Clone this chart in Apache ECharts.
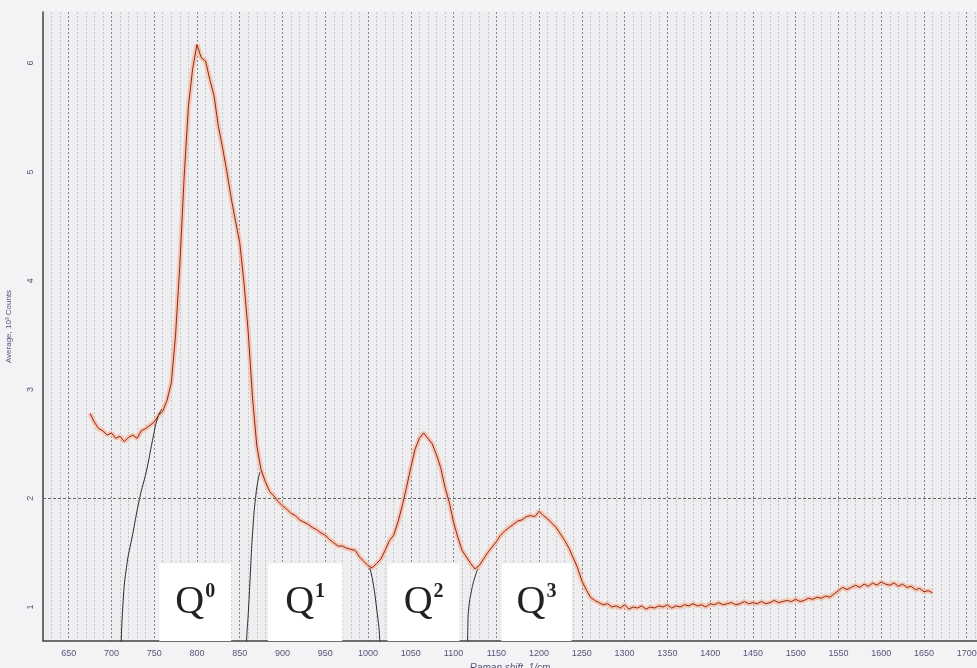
<!DOCTYPE html>
<html><head><meta charset="utf-8">
<script src="https://cdn.jsdelivr.net/npm/echarts/dist/echarts.min.js"></script>
<style>html,body{margin:0;padding:0;background:#f3f3f5;}#c{width:977px;height:668px;}</style>
</head><body><div id="c"></div>
<script>
const shift = [675,680,685,690,695,700,705,710,715,720,725,730,735,740,745,750,755,760,765,770,
775,780,785,790,795,800,805,810,815,820,825,830,835,840,845,850,855,860,865,870,
875,880,885,890,895,900,905,910,915,920,925,930,935,940,945,950,955,960,965,970,
975,980,985,990,995,1000,1005,1010,1015,1020,1025,1030,1035,1040,1045,1050,1055,1060,1065,1070,
1075,1080,1085,1090,1095,1100,1105,1110,1115,1120,1125,1130,1135,1140,1145,1150,1155,1160,1165,1170,
1175,1180,1185,1190,1195,1200,1205,1210,1215,1220,1225,1230,1235,1240,1245,1250,1255,1260,1265,1270,
1275,1280,1285,1290,1295,1300,1305,1310,1315,1320,1325,1330,1335,1340,1345,1350,1355,1360,1365,1370,
1375,1380,1385,1390,1395,1400,1405,1410,1415,1420,1425,1430,1435,1440,1445,1450,1455,1460,1465,1470,
1475,1480,1485,1490,1495,1500,1505,1510,1515,1520,1525,1530,1535,1540,1545,1550,1555,1560,1565,1570,
1575,1580,1585,1590,1595,1600,1605,1610,1615,1620,1625,1630,1635,1640,1645,1650,1655,1660];
const counts = [2.78,2.70,2.64,2.62,2.58,2.60,2.55,2.57,2.52,2.56,2.58,2.55,2.62,2.64,2.67,2.70,2.76,2.80,2.90,3.06,
3.50,4.15,4.95,5.60,5.95,6.17,6.05,6.02,5.85,5.70,5.42,5.22,5.00,4.76,4.55,4.35,3.98,3.52,2.92,2.48,
2.26,2.15,2.06,2.02,1.97,1.93,1.90,1.86,1.84,1.80,1.78,1.76,1.73,1.71,1.68,1.66,1.62,1.59,1.56,1.56,
1.54,1.53,1.52,1.46,1.42,1.38,1.36,1.40,1.44,1.52,1.61,1.66,1.78,1.93,2.10,2.28,2.45,2.55,2.60,2.55,
2.50,2.40,2.28,2.10,1.96,1.78,1.64,1.52,1.46,1.40,1.35,1.38,1.44,1.50,1.55,1.60,1.66,1.70,1.73,1.76,
1.79,1.80,1.83,1.84,1.83,1.88,1.84,1.81,1.77,1.73,1.67,1.61,1.54,1.45,1.36,1.24,1.16,1.09,1.06,1.04,
1.02,1.03,1.00,1.01,0.99,1.02,0.98,1.00,0.99,1.01,0.98,1.00,0.99,1.01,1.00,1.02,0.99,1.01,1.00,1.02,
1.01,1.03,1.01,1.02,1.00,1.03,1.02,1.04,1.02,1.03,1.04,1.02,1.03,1.05,1.03,1.04,1.03,1.05,1.03,1.04,
1.06,1.04,1.05,1.06,1.05,1.07,1.05,1.06,1.08,1.07,1.09,1.08,1.10,1.09,1.12,1.15,1.18,1.16,1.18,1.20,
1.18,1.21,1.19,1.22,1.20,1.23,1.21,1.20,1.22,1.19,1.21,1.18,1.19,1.16,1.17,1.14,1.15,1.13];
// fitted component flanks (visible parts)
const q0Flank = [[711,0.55],[713.2,0.99],[717.5,1.36],[724.9,1.67],[733,2.00],[740.9,2.25],[748,2.53],[754,2.74],[759,2.82]];
const q1Flank = [[857.5,0.55],[858.2,0.72],[860,0.94],[862,1.24],[865.2,1.70],[869.5,2.07],[873.5,2.24]];
const q1Tail = [[1002,1.36],[1005.5,1.24],[1010,0.99],[1013.7,0.70],[1014.2,0.55]];
const q3Flank = [[1116.3,0.55],[1116.7,0.81],[1117.8,0.99],[1121,1.15],[1124.8,1.27],[1128.4,1.35]];
const xTicks = [650,700,750,800,850,900,950,1000,1050,1100,1150,1200,1250,1300,1350,1400,1450,1500,1550,1600,1650,1700];
const yTicks = [1,2,3,4,5,6];
const qLabels = ['0','1','2','3'];
const qRanges = [[756,840],[883,970],[1023,1107],[1156,1238]];
const qTop = 1.40;
const yMin = 0.687, yMax = 6.47;

const spectrum = shift.map((s,i)=>[s,counts[i]]);
const chart = echarts.init(document.getElementById('c'));
const labelColor = '#55557a';
const flankStyle = {type:'line', smooth:true, symbol:'none', lineStyle:{color:'#2a2a2a', width:1}, z:3, silent:true};
chart.setOption({
  animation:false,
  backgroundColor:'#f3f3f5',
  grid:{left:43, right:0, top:12, bottom:27, outerBoundsMode:'none', containLabel:false, show:true, backgroundColor:'#eeeef1', borderWidth:0},
  xAxis:{type:'value', min:620, max:1712, interval:10,
    name:'Raman shift, 1/cm', nameLocation:'middle', nameGap:19,
    nameTextStyle:{color:labelColor, fontSize:10, fontFamily:'Liberation Sans', fontStyle:'italic'},
    axisLine:{show:true, onZero:false, lineStyle:{color:'#444', width:1.5}},
    axisTick:{show:false},
    axisLabel:{color:labelColor, fontSize:9, fontFamily:'Liberation Sans', margin:8,
      formatter:v=> xTicks.indexOf(v)>=0 ? String(v) : ''},
    splitLine:{show:true, lineStyle:{type:[2,2], width:1, color:['#c4c4cc','#c4c4cc','#c4c4cc','#85858f','#c4c4cc']}}
  },
  yAxis:{type:'value', min:yMin, max:yMax,
    name:'Average, 10³ Counts', nameLocation:'middle', nameGap:30,
    nameTextStyle:{color:labelColor, fontSize:8, fontFamily:'Liberation Sans'},
    axisLine:{show:true, lineStyle:{color:'#444', width:1.5}},
    axisTick:{show:false},
    axisLabel:{customValues:yTicks, rotate:90, color:labelColor, fontSize:9, fontFamily:'Liberation Sans', margin:8},
    splitLine:{show:false}
  },
  series:[
    {type:'line', data:spectrum, symbol:'none', lineStyle:{color:'rgba(248,185,160,0.75)', width:5}, z:2, silent:true,
     markLine:{silent:true, symbol:'none', label:{show:false}, lineStyle:{color:'#666', type:[3,2], width:1},
       data:[{yAxis:2}]},
     markArea:{silent:true, itemStyle:{color:'#ffffff', opacity:1},
       label:{show:true, position:'inside', color:'#222', fontFamily:'Liberation Serif', fontSize:40,
         rich:{s:{fontFamily:'Liberation Serif', fontSize:20, fontWeight:'bold', color:'#222', verticalAlign:'top', lineHeight:20, padding:[0,0,24,1]}}},
       data: qRanges.map((r,i)=>[{xAxis:r[0], yAxis:yMin, label:{formatter:'Q{s|'+qLabels[i]+'}'}},{xAxis:r[1], yAxis:qTop}])
     }},
    {type:'line', data:spectrum, symbol:'none', lineStyle:{color:'#8a2a16', width:1}, z:4, silent:true},
    Object.assign({data:q0Flank}, flankStyle),
    Object.assign({data:q1Flank}, flankStyle),
    Object.assign({data:q1Tail}, flankStyle),
    Object.assign({data:q3Flank}, flankStyle)
  ]
});
</script></body></html>
